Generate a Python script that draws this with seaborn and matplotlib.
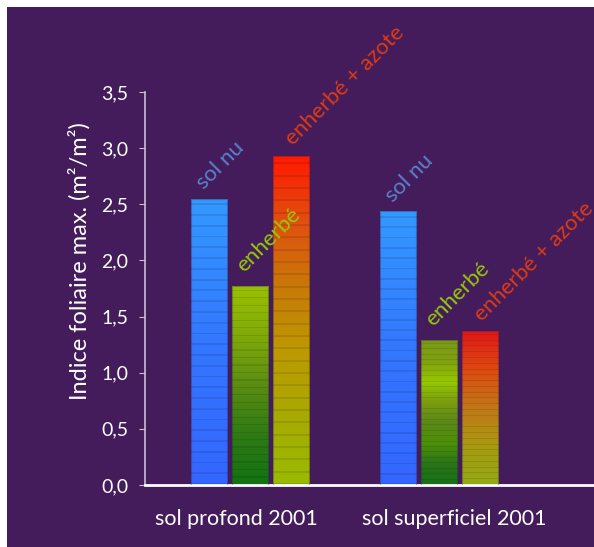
import numpy as np
import pandas as pd
import matplotlib
matplotlib.use("Agg")
import matplotlib.pyplot as plt
import seaborn as sns
from matplotlib.colors import LinearSegmentedColormap
from matplotlib.patches import Rectangle

groupes = ["sol profond 2001", "sol superficiel 2001"]
traitements = ["sol nu", "enherbé", "enherbé + azote"]
sol_nu = [2.55, 2.44]
enherbe = [1.77, 1.29]
enherbe_azote = [2.93, 1.37]
yticks = [0, 0.5, 1.0, 1.5, 2.0, 2.5, 3.0, 3.5]

fond = "#441c5c"
label_colors = {"sol nu": "#5a82c8", "enherbé": "#96c80a", "enherbé + azote": "#dc3c14"}
# label offsets from the bar's top-left corner (x in category units, y in data units)
label_dx = {"sol nu": 0.085, "enherbé": 0.08, "enherbé + azote": 0.12}
label_dy = {"sol nu": 0.05, "enherbé": 0.09, "enherbé + azote": 0.06}
# gradient stops, bottom -> top, one list per bar (treatment, group)
stops = {
    ("sol nu", 0): ["#3366ff", "#3377ff", "#3399ff"],
    ("sol nu", 1): ["#3366ff", "#3377ff", "#3399ff"],
    ("enherbé", 0): ["#127212", "#2f7a14", "#5a8c12", "#80aa08", "#99c000"],
    ("enherbé", 1): ["#167016", "#2a7418", "#4c9008", "#5c8818", "#7a9c10", "#96c800", "#80a010", "#7a9a18"],
    ("enherbé + azote", 0): ["#99bb00", "#a8aa00", "#bc9a00", "#c87a08", "#e05010", "#ff1a00"],
    ("enherbé + azote", 1): ["#93aa14", "#a89a10", "#c07818", "#dd4a10", "#e01818"],
}

df = pd.DataFrame({
    "groupe": groupes * 3,
    "traitement": np.repeat(traitements, 2),
    "indice": sol_nu + enherbe + enherbe_azote,
})

plt.rcParams["font.family"] = ["Lato", "DejaVu Sans"]

fig = plt.figure(figsize=(5.94, 5.47), dpi=100, facecolor="white")
fig.patches.append(Rectangle((7 / 594, 0), 1, 1 - 7 / 547, transform=fig.transFigure,
                             facecolor=fond, edgecolor="none", zorder=-10))
ax = fig.add_axes([145 / 594, 62 / 547, 470 / 594, 393 / 547])
ax.set_facecolor("none")

sns.barplot(data=df, x="groupe", y="indice", hue="traitement", order=groupes,
            hue_order=traitements, width=0.65, gap=0.12, legend=False, ax=ax)

for t, cont in zip(traitements, ax.containers):
    for j, bar in enumerate(cont):
        x0, w, h = bar.get_x(), bar.get_width(), bar.get_height()
        cmap = LinearSegmentedColormap.from_list("g", stops[(t, j)])
        n = 160
        rows = np.array([cmap(v)[:3] for v in np.linspace(0, 1, n)])
        shade = np.where(np.arange(n) % 6 == 0, 0.9, 1.0)
        rows = rows * shade[:, None]
        img = np.repeat(rows[:, None, :], 2, axis=1)
        im = ax.imshow(img, extent=[x0, x0 + w, 0, h], origin="lower",
                       aspect="auto", zorder=2, interpolation="nearest")
        im.set_clip_path(bar)
        bar.set_facecolor("none")
        bar.set_edgecolor((0.2, 0.1, 0.3, 0.35))
        bar.set_linewidth(0.8)
        bar.set_zorder(3)
        ax.text(x0 + label_dx[t], h + label_dy[t], t, rotation=45, rotation_mode="anchor",
                ha="left", va="bottom", color=label_colors[t], fontsize=16,
                clip_on=False)

ax.set_xlim(-0.556, 1.931)
ax.set_ylim(0, 3.5)
ax.set_yticks(yticks)
ax.set_yticklabels([f"{v:.1f}".replace(".", ",") for v in yticks])
ax.set_xticks([-0.074, 1.079])
ax.set_xticklabels(groupes)
ax.set_xlabel("")
ax.set_ylabel("Indice foliaire max. (m²/m²)", color="white", fontsize=17, labelpad=6)
ax.yaxis.set_label_coords(-0.115, 0.57)

for s in ["top", "right"]:
    ax.spines[s].set_visible(False)
ax.spines["left"].set_color("#c8c0d0")
ax.spines["left"].set_linewidth(1.2)
ax.spines["bottom"].set_color("white")
ax.spines["bottom"].set_linewidth(2)
ax.tick_params(axis="y", colors="#c8c0d0", length=4, labelcolor="white", labelsize=14, pad=8)
ax.tick_params(axis="x", length=0, labelcolor="white", labelsize=15.5, pad=17)

fig.savefig("out.png", dpi=100, facecolor="white")
